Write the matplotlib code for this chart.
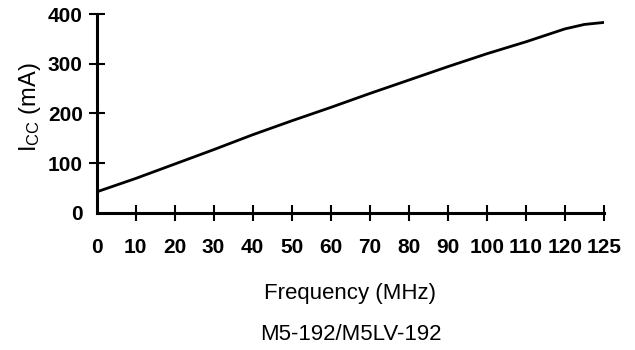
import matplotlib
matplotlib.use("Agg")
import matplotlib.pyplot as plt
import numpy as np

# data
freq_mhz = [0, 10, 20, 30, 40, 50, 60, 70, 80, 90, 100, 110, 120, 122.5, 125]
icc_ma = [42, 69, 98, 127, 157, 185, 212, 240, 267, 294, 320, 344, 370, 379, 383]
x_ticks = [0, 10, 20, 30, 40, 50, 60, 70, 80, 90, 100, 110, 120, 125]
y_ticks = [0, 100, 200, 300, 400]
caption = "M5-192/M5LV-192"

plt.rcParams["font.family"] = ["Liberation Sans", "DejaVu Sans"]
plt.rcParams["mathtext.default"] = "regular"


# the last 5 MHz step is drawn as wide as a 10 MHz step
def fwd(x):
    x = np.asarray(x, dtype=float)
    return np.where(x <= 120, x, 120 + (x - 120) * 2)


def inv(p):
    p = np.asarray(p, dtype=float)
    return np.where(p <= 120, p, 120 + (p - 120) / 2)


fig = plt.figure(figsize=(6.35, 3.5), dpi=100)
ax = fig.add_axes([0.152, 0.392, 0.799, 0.568])
ax.set_xscale("function", functions=(fwd, inv))

ax.plot(freq_mhz, icc_ma, color="black", lw=2.0, solid_capstyle="round")

ax.set_xlim(0, 125)
ax.set_ylim(0, 400)
ax.set_xticks(x_ticks)
ax.set_xticklabels([str(t) for t in x_ticks])
ax.set_yticks(y_ticks)
ax.minorticks_off()

for side in ["top", "right"]:
    ax.spines[side].set_visible(False)
for side in ["left", "bottom"]:
    ax.spines[side].set_linewidth(2.2)

ax.tick_params(axis="both", direction="inout", length=12, width=1.5,
               labelsize=15, color="black")
ax.tick_params(axis="x", pad=12)
ax.tick_params(axis="y", pad=4)
for lbl in ax.get_xticklabels() + ax.get_yticklabels():
    lbl.set_fontweight("bold")
ax.xaxis.get_major_ticks()[0].tick1line.set_visible(False)
ax.yaxis.get_major_ticks()[0].tick1line.set_visible(False)

ax.set_xlabel("Frequency (MHz)", fontsize=16, labelpad=19)
ax.set_ylabel("I$_{CC}$ (mA)", fontsize=17)
ax.yaxis.set_label_coords(-0.105, 0.53)
fig.text(0.552, 0.045, caption, fontsize=16, ha="center", va="center")

fig.savefig("out.png", dpi=100)
